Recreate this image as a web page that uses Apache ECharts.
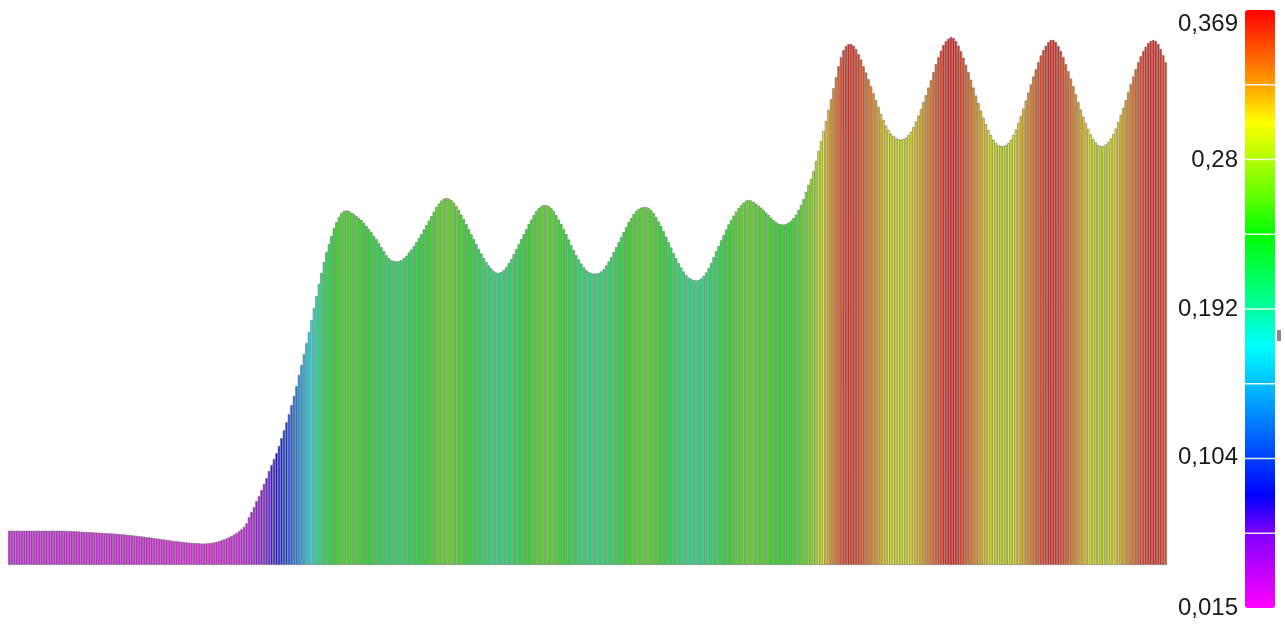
<!DOCTYPE html>
<html>
<head>
<meta charset="utf-8">
<script src="https://cdn.jsdelivr.net/npm/echarts@6/dist/echarts.min.js"></script>
<style>
  html, body { margin: 0; padding: 0; background: #ffffff; }
  #chart { width: 1285px; height: 625px; }
</style>
</head>
<body>
<div id="chart"></div>
<script>
// Profile values, left to right, one per bar.
const lowPlateau = [
  0.0240,0.0240,0.0240,0.0240,0.0240,0.0240,0.0240,0.0240,0.0240,0.0240,
  0.0240,0.0240,0.0240,0.0240,0.0240,0.0240,0.0240,0.0240,0.0240,0.0240,
  0.0240,0.0240,0.0239,0.0239,0.0238,0.0237,0.0236,0.0235,0.0234,0.0233,
  0.0232,0.0231,0.0230,0.0229,0.0228,0.0227,0.0226,0.0225,0.0224,0.0223,
  0.0222,0.0221,0.0220,0.0218,0.0217,0.0215,0.0214,0.0212,0.0210,0.0208,
  0.0206,0.0204,0.0202,0.0200,0.0198,0.0195,0.0193,0.0191,0.0188,0.0186,
  0.0183,0.0181,0.0178,0.0176,0.0173,0.0171,0.0168,0.0166,0.0164,0.0162,
  0.0160,0.0158,0.0157,0.0155,0.0154,0.0153,0.0152,0.0150,0.0150,0.0152,
  0.0153,0.0155,0.0158,0.0162,0.0167,0.0173,0.0179,0.0186,0.0194,0.0203,
  0.0213,0.0224,0.0236
];
const ascent = [
  0.0250,0.0266,0.0292,0.0335,0.0370,0.0405,0.0447,0.0482,0.0524,0.0566,
  0.0608,0.0657,0.0699,0.0741,0.0783,0.0832,0.0887,0.0943,0.0999,0.1055,
  0.1118,0.1181,0.1251,0.1328,0.1398,0.1474,0.1551,0.1628,0.1712,0.1796,
  0.1880,0.1964,0.2041,0.2117,0.2187,0.2243,0.2299,0.2355,0.2397,0.2432,
  0.2460,0.2474,0.2478
];
const greenWaves = [
  0.2474,0.2463,0.2453,0.2439,0.2425,0.2411,0.2390,0.2369,0.2348,0.2327,
  0.2299,0.2278,0.2250,0.2222,0.2194,0.2166,0.2145,0.2131,0.2124,0.2121,
  0.2124,0.2131,0.2145,0.2162,0.2184,0.2205,0.2229,0.2257,0.2285,0.2313,
  0.2345,0.2376,0.2407,0.2439,0.2470,0.2502,0.2526,0.2547,0.2561,0.2565,
  0.2561,0.2551,0.2533,0.2509,0.2481,0.2449,0.2418,0.2383,0.2348,0.2313,
  0.2278,0.2243,0.2208,0.2177,0.2145,0.2117,0.2093,0.2072,0.2054,0.2044,
  0.2041,0.2048,0.2062,0.2082,0.2110,0.2138,0.2173,0.2208,0.2243,0.2278,
  0.2313,0.2348,0.2383,0.2414,0.2446,0.2474,0.2495,0.2509,0.2516,0.2516,
  0.2509,0.2495,0.2474,0.2446,0.2414,0.2383,0.2348,0.2313,0.2275,0.2236,
  0.2201,0.2166,0.2135,0.2107,0.2082,0.2062,0.2048,0.2041,0.2037,0.2037,
  0.2041,0.2051,0.2068,0.2093,0.2121,0.2152,0.2187,0.2222,0.2257,0.2292,
  0.2327,0.2362,0.2397,0.2425,0.2453,0.2474,0.2488,0.2498,0.2502,0.2502,
  0.2495,0.2481,0.2460,0.2432,0.2400,0.2369,0.2334,0.2295,0.2257,0.2219,
  0.2180,0.2145,0.2110,0.2079,0.2051,0.2027,0.2009,0.1999,0.1992,0.1988,
  0.1992,0.2002,0.2020,0.2044,0.2075,0.2110,0.2152,0.2194,0.2229,0.2268,
  0.2306,0.2345,0.2380,0.2411,0.2442,0.2470,0.2495,0.2516,0.2533,0.2547,
  0.2551,0.2547,0.2537,0.2526,0.2512,0.2498,0.2481,0.2463,0.2446,0.2428,
  0.2411,0.2397,0.2386,0.2381,0.2379,0.2383,0.2393,0.2407,0.2425,0.2449,
  0.2481,0.2516,0.2558,0.2607,0.2656
];
const highWaves = [
  0.2697,0.2753,0.2823,0.2893,0.2963,0.3033,0.3103,0.3180,0.3256,0.3333,
  0.3410,0.3487,0.3550,0.3599,0.3627,0.3641,0.3641,0.3630,0.3606,0.3571,
  0.3533,0.3487,0.3442,0.3396,0.3347,0.3298,0.3249,0.3201,0.3152,0.3110,
  0.3071,0.3040,0.3015,0.2998,0.2984,0.2977,0.2973,0.2977,0.2987,0.3005,
  0.3029,0.3061,0.3099,0.3141,0.3187,0.3236,0.3284,0.3337,0.3389,0.3445,
  0.3501,0.3550,0.3595,0.3634,0.3662,0.3679,0.3690,0.3683,0.3662,0.3630,
  0.3592,0.3546,0.3497,0.3445,0.3392,0.3337,0.3281,0.3229,0.3176,0.3127,
  0.3082,0.3040,0.3005,0.2973,0.2949,0.2935,0.2928,0.2928,0.2935,0.2949,
  0.2973,0.3005,0.3043,0.3089,0.3138,0.3190,0.3246,0.3302,0.3358,0.3414,
  0.3466,0.3515,0.3561,0.3599,0.3630,0.3655,0.3669,0.3669,0.3655,0.3627,
  0.3592,0.3550,0.3501,0.3452,0.3400,0.3347,0.3291,0.3236,0.3183,0.3134,
  0.3089,0.3047,0.3009,0.2977,0.2953,0.2935,0.2928,0.2928,0.2939,0.2956,
  0.2980,0.3012,0.3050,0.3096,0.3145,0.3197,0.3249,0.3305,0.3361,0.3414,
  0.3466,0.3515,0.3557,0.3592,0.3623,0.3648,0.3662,0.3669,0.3662,0.3641,
  0.3606,0.3564,0.3515
];

// Colour scale range and its labelled values.
const scaleMin = 0.015;
const scaleMax = 0.369;
const scaleTicks = [0.015, 0.104, 0.192, 0.28, 0.369];

const values = lowPlateau.concat(ascent, greenWaves, highWaves);
const categories = values.map((_, i) => i + 1);

// Rainbow ramp: magenta -> blue -> cyan -> green -> yellow -> red.
const rainbow = [
  '#ff00ff', '#c000ff', '#8000ff', '#0000ff', '#0040ff', '#0080ff',
  '#00c0ff', '#00ffff', '#00ffa0', '#00ff50', '#00ff00', '#60ff00',
  '#b0ff00', '#ffff00', '#ffa000', '#ff5000', '#ff0000'
];

// Geometry of the colour bar on the right.
const cbar = { left: 1245, top: 10, width: 30, height: 598 };
const bands = 8;

const fmt = v => String(+v.toFixed(3)).replace('.', ',');
const labelFont = 'Liberation Sans, Arial, Helvetica, sans-serif';

const graphics = [];
for (let k = 1; k < bands; k++) {
  const y = cbar.top + cbar.height * k / bands;
  graphics.push({
    type: 'line', z: 100, silent: true,
    shape: { x1: cbar.left, y1: y, x2: cbar.left + cbar.width, y2: y },
    style: { stroke: 'rgba(255,255,255,0.9)', lineWidth: 1.5 }
  });
}
graphics.push({
  type: 'rect', z: 100, silent: true,
  shape: { x: cbar.left + cbar.width + 2, y: 330, width: 4, height: 11 },
  style: { fill: '#888888' }
});

const chart = echarts.init(document.getElementById('chart'), null, { renderer: 'canvas' });
chart.setOption({
  animation: false,
  backgroundColor: '#ffffff',
  grid: [
    { left: 8, right: 118, top: 37, bottom: 60 },
    { left: cbar.left, top: cbar.top, width: cbar.width, height: cbar.height }
  ],
  xAxis: [
    { type: 'category', gridIndex: 0, data: categories, show: false },
    { type: 'value', gridIndex: 1, show: false }
  ],
  yAxis: [
    { type: 'value', gridIndex: 0, min: 0, max: scaleMax, show: false },
    {
      type: 'value', gridIndex: 1, min: scaleMin, max: scaleMax, position: 'left',
      axisLine: { show: false }, axisTick: { show: false }, splitLine: { show: false },
      axisLabel: {
        customValues: scaleTicks,
        margin: 7,
        fontSize: 24,
        color: '#1a1a1a',
        fontFamily: labelFont,
        formatter: v => (v >= scaleMax ? '{top|' + fmt(v) + '}' : fmt(v)),
        rich: {
          top: { fontSize: 24, color: '#1a1a1a', fontFamily: labelFont, padding: [28, 0, 0, 0] }
        }
      }
    }
  ],
  visualMap: {
    type: 'continuous',
    min: scaleMin,
    max: scaleMax,
    seriesIndex: 0,
    orient: 'vertical',
    left: cbar.left,
    top: cbar.top,
    itemWidth: cbar.width,
    itemHeight: cbar.height,
    padding: 0,
    calculable: false,
    hoverLink: false,
    text: null,
    inRange: { color: rainbow }
  },
  graphic: graphics,
  series: [{
    type: 'bar',
    xAxisIndex: 0,
    yAxisIndex: 0,
    data: values,
    barCategoryGap: '0%',
    silent: true,
    itemStyle: { borderColor: '#7a7a7a', borderWidth: 0.7 }
  }]
});
</script>
</body>
</html>
